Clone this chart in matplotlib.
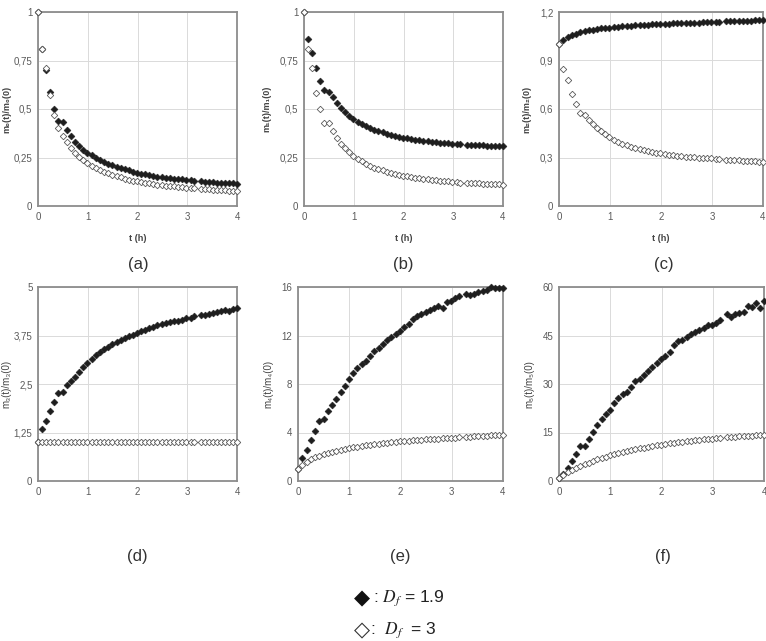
import matplotlib
matplotlib.use("Agg")
import matplotlib.pyplot as plt

plt.rcParams["font.family"] = ["Liberation Sans", "DejaVu Sans"]
plt.rcParams["mathtext.fontset"] = "stix"

# ---------------- data ----------------
t = [0, 0.08, 0.17, 0.25, 0.33, 0.41, 0.5, 0.58, 0.66, 0.75, 0.83, 0.91, 0.99,
     1.08, 1.16, 1.24, 1.33, 1.41, 1.49, 1.58, 1.66, 1.74, 1.82, 1.91, 1.99,
     2.07, 2.16, 2.24, 2.32, 2.40, 2.49, 2.57, 2.65, 2.74, 2.82, 2.90, 2.98,
     3.07, 3.14, 3.28, 3.36, 3.44, 3.52, 3.60, 3.68, 3.76, 3.84, 3.92, 4.0]

m0_df19 = [1.0, 0.81, 0.70, 0.59, 0.50, 0.44, 0.435, 0.39, 0.36, 0.33, 0.31, 0.29, 0.275,
           0.262, 0.25, 0.238, 0.228, 0.218, 0.21, 0.202, 0.195, 0.189, 0.183, 0.177, 0.172,
           0.167, 0.163, 0.159, 0.155, 0.152, 0.149, 0.146, 0.143, 0.141, 0.139, 0.137, 0.135,
           0.133, 0.131, 0.127, 0.125, 0.124, 0.122, 0.121, 0.12, 0.118, 0.117, 0.116, 0.115]
m0_df3 = [1.0, 0.81, 0.71, 0.57, 0.47, 0.40, 0.36, 0.33, 0.30, 0.275, 0.255, 0.237, 0.222,
          0.208, 0.196, 0.185, 0.176, 0.168, 0.16, 0.153, 0.147, 0.141, 0.136, 0.131, 0.127,
          0.123, 0.119, 0.116, 0.113, 0.11, 0.107, 0.105, 0.103, 0.101, 0.099, 0.097, 0.095,
          0.093, 0.092, 0.089, 0.087, 0.086, 0.084, 0.083, 0.082, 0.08, 0.079, 0.078, 0.077]

m1_df19 = [1.0, 0.86, 0.79, 0.71, 0.645, 0.60, 0.59, 0.56, 0.53, 0.505, 0.485, 0.465, 0.45,
           0.435, 0.423, 0.412, 0.402, 0.393, 0.386, 0.379, 0.373, 0.367, 0.362, 0.357, 0.353,
           0.349, 0.345, 0.342, 0.339, 0.336, 0.333, 0.331, 0.329, 0.327, 0.325, 0.323, 0.321,
           0.32, 0.318, 0.316, 0.315, 0.314, 0.313, 0.312, 0.311, 0.31, 0.309, 0.308, 0.307]
m1_df3 = [1.0, 0.81, 0.71, 0.585, 0.50, 0.43, 0.43, 0.385, 0.35, 0.32, 0.30, 0.28, 0.258,
          0.243, 0.23, 0.218, 0.207, 0.198, 0.19, 0.183, 0.177, 0.171, 0.166, 0.161, 0.157,
          0.153, 0.149, 0.146, 0.143, 0.14, 0.137, 0.135, 0.133, 0.131, 0.129, 0.127, 0.125,
          0.123, 0.121, 0.119, 0.118, 0.117, 0.116, 0.115, 0.114, 0.113, 0.112, 0.111, 0.11]

m2_df19 = [1.0, 1.028, 1.043, 1.057, 1.067, 1.075, 1.081, 1.086, 1.091, 1.095, 1.098, 1.101, 1.104,
           1.107, 1.109, 1.111, 1.113, 1.115, 1.117, 1.119, 1.12, 1.122, 1.123, 1.125, 1.126,
           1.127, 1.128, 1.129, 1.13, 1.131, 1.132, 1.133, 1.134, 1.135, 1.136, 1.137, 1.138,
           1.139, 1.14, 1.142, 1.143, 1.144, 1.145, 1.146, 1.146, 1.147, 1.148, 1.149, 1.15]
m2_df3 = [1.0, 0.85, 0.78, 0.69, 0.63, 0.575, 0.565, 0.535, 0.51, 0.485, 0.463, 0.445, 0.425,
          0.41, 0.397, 0.386, 0.376, 0.367, 0.359, 0.352, 0.346, 0.34, 0.335, 0.33, 0.326,
          0.322, 0.318, 0.315, 0.312, 0.309, 0.306, 0.304, 0.302, 0.3, 0.298, 0.296, 0.294,
          0.292, 0.29, 0.287, 0.285, 0.284, 0.282, 0.281, 0.279, 0.278, 0.276, 0.275, 0.273]

m3_df19 = [1.0, 1.34, 1.55, 1.81, 2.03, 2.26, 2.29, 2.47, 2.58, 2.69, 2.82, 2.94, 3.05,
           3.15, 3.24, 3.32, 3.39, 3.46, 3.52, 3.58, 3.63, 3.68, 3.73, 3.77, 3.81,
           3.86, 3.89, 3.94, 3.98, 4.01, 4.04, 4.07, 4.09, 4.12, 4.13, 4.15, 4.19,
           4.21, 4.25, 4.29, 4.29, 4.31, 4.32, 4.36, 4.38, 4.41, 4.38, 4.43, 4.46]
m3_df3 = [1.0, 1.0, 1.0, 1.0, 1.0, 1.0, 1.0, 1.0, 1.0, 1.0, 1.0, 1.0, 1.0,
          1.0, 1.0, 1.0, 1.0, 1.0, 1.0, 1.0, 1.0, 1.0, 1.0, 1.0, 1.0,
          1.0, 1.0, 1.0, 1.0, 1.0, 1.0, 1.0, 1.0, 1.0, 1.0, 1.0, 1.0,
          1.0, 1.0, 1.0, 1.0, 1.0, 1.0, 1.0, 1.0, 1.0, 1.0, 1.0, 1.0]

m4_df19 = [1.0, 1.9, 2.55, 3.37, 4.14, 4.97, 5.1, 5.77, 6.26, 6.76, 7.3, 7.83, 8.4,
           8.9, 9.3, 9.65, 9.9, 10.3, 10.7, 11.0, 11.3, 11.6, 11.9, 12.15, 12.4,
           12.7, 12.95, 13.35, 13.6, 13.75, 13.95, 14.1, 14.3, 14.45, 14.25, 14.75, 14.85,
           15.1, 15.25, 15.45, 15.35, 15.45, 15.6, 15.65, 15.75, 16.0, 15.9, 15.95, 15.9]
m4_df3 = [1.0, 1.35, 1.57, 1.78, 1.97, 2.1, 2.22, 2.33, 2.43, 2.51, 2.58, 2.65, 2.72,
          2.78, 2.84, 2.89, 2.94, 2.99, 3.03, 3.07, 3.11, 3.15, 3.19, 3.22, 3.26,
          3.29, 3.32, 3.35, 3.38, 3.41, 3.43, 3.46, 3.48, 3.5, 3.52, 3.54, 3.56,
          3.58, 3.6, 3.64, 3.66, 3.68, 3.7, 3.72, 3.74, 3.76, 3.78, 3.8, 3.82]

m5_df19 = [1.0, 2.3, 4.0, 6.1, 8.2, 10.8, 10.9, 13.1, 15.2, 17.3, 19.3, 20.6, 21.9,
           24.0, 25.6, 26.8, 27.5, 29.0, 30.8, 31.6, 32.8, 34.0, 35.2, 36.5, 37.6,
           38.8, 39.8, 42.0, 43.3, 43.6, 44.4, 45.5, 46.1, 46.6, 47.2, 48.2, 48.4,
           49.0, 49.8, 51.8, 50.8, 51.6, 52.0, 52.2, 54.2, 53.8, 55.0, 53.6, 55.8]
m5_df3 = [1.0, 2.0, 2.8, 3.5, 4.1, 4.7, 5.2, 5.7, 6.2, 6.7, 7.1, 7.5, 7.9,
          8.3, 8.6, 8.9, 9.2, 9.5, 9.8, 10.1, 10.3, 10.6, 10.8, 11.0, 11.2,
          11.4, 11.6, 11.8, 12.0, 12.2, 12.3, 12.5, 12.6, 12.8, 12.9, 13.0, 13.1,
          13.2, 13.3, 13.5, 13.6, 13.7, 13.8, 13.9, 14.0, 14.0, 14.1, 14.1, 14.2]

x_ticks = [0, 1, 2, 3, 4]
x_ticklabels = ["0", "1", "2", "3", "4"]

yticks_a = [0, 0.25, 0.5, 0.75, 1]
ylabels_a = ["0", "0,25", "0,5", "0,75", "1"]
yticks_c = [0, 0.3, 0.6, 0.9, 1.2]
ylabels_c = ["0", "0,3", "0,6", "0,9", "1,2"]
yticks_d = [0, 1.25, 2.5, 3.75, 5]
ylabels_d = ["0", "1,25", "2,5", "3,75", "5"]
yticks_e = [0, 4, 8, 12, 16]
ylabels_e = ["0", "4", "8", "12", "16"]
yticks_f = [0, 15, 30, 45, 60]
ylabels_f = ["0", "15", "30", "45", "60"]

ylabel_texts = ["m₀(t)/m₀(0)", "m₁(t)/m₁(0)", "m₂(t)/m₂(0)",
                "m₃(t)/m₃(0)", "m₄(t)/m₄(0)", "m₅(t)/m₅(0)"]
panel_letters = ["(a)", "(b)", "(c)", "(d)", "(e)", "(f)"]

# ---------------- figure ----------------
W, H = 766, 641
fig = plt.figure(figsize=(W / 100, H / 100), dpi=100)


def px_axes(x0, x1, y0, y1):
    return fig.add_axes([x0 / W, 1 - y1 / H, (x1 - x0) / W, (y1 - y0) / H])


boxes = [(38, 237, 12, 206), (304, 503, 12, 206), (559, 763, 12, 206),
         (38, 237, 287, 481), (298, 503, 287, 481), (559, 764, 287, 481)]
series = [(m0_df19, m0_df3), (m1_df19, m1_df3), (m2_df19, m2_df3),
          (m3_df19, m3_df3), (m4_df19, m4_df3), (m5_df19, m5_df3)]
yt = [(yticks_a, ylabels_a), (yticks_a, ylabels_a), (yticks_c, ylabels_c),
      (yticks_d, ylabels_d), (yticks_e, ylabels_e), (yticks_f, ylabels_f)]
letter_pos = [(138, 265), (403, 265), (664, 265), (137, 557), (400, 557), (663, 557)]
label_pads = [2, 6, 6, 2, 6, 6]

tick_col = "#5a5a5a"
for i, (box, (s19, s3), (ticks, labs)) in enumerate(zip(boxes, series, yt)):
    ax = px_axes(*box)
    ax.set_xlim(0, 4)
    ax.set_ylim(ticks[0], ticks[-1])
    ax.set_xticks(x_ticks)
    ax.set_xticklabels(x_ticklabels)
    ax.set_yticks(ticks)
    ax.set_yticklabels(labs)
    ax.grid(True, color="#dadada", linewidth=0.7)
    ax.set_axisbelow(True)
    for sp in ax.spines.values():
        sp.set_color("#8c8c8c")
        sp.set_linewidth(1.3)
    ax.tick_params(length=0, labelsize=7, labelcolor=tick_col, pad=4)
    ax.plot(t, s19, linestyle="none", marker="D", markersize=3.5,
            markerfacecolor="#1e1e1e", markeredgecolor="#1e1e1e",
            markeredgewidth=0.4, clip_on=False, zorder=3)
    ax.plot(t, s3, linestyle="none", marker="D", markersize=3.3,
            markerfacecolor="white", markeredgecolor="#5a5a5a",
            markeredgewidth=0.6, clip_on=False, zorder=4)
    top = i < 3
    ax.set_ylabel(ylabel_texts[i], fontsize=6.5 if top else 7,
                  fontweight="bold" if top else "normal", color="#444444",
                  labelpad=label_pads[i])
    if top:
        ax.set_xlabel("t (h)", fontsize=6.5, fontweight="bold", color="#444444",
                      labelpad=9)
    lx, ly = letter_pos[i]
    fig.text(lx / W, 1 - ly / H, panel_letters[i], ha="center", va="center",
             fontsize=12, color="#333333")

# legend
fig.text(354 / W, 1 - 598 / H, "◆", ha="left", va="center", fontsize=15,
         color="#111111", family="DejaVu Sans")
fig.text(373 / W, 1 - 598 / H, r": $D_f$ = 1.9", ha="left", va="center",
         fontsize=12.5, color="#222222")
fig.text(354 / W, 1 - 630 / H, "◇", ha="left", va="center", fontsize=15,
         color="#333333", family="DejaVu Sans")
fig.text(370 / W, 1 - 630 / H, r":  $D_f$  = 3", ha="left", va="center",
         fontsize=12.5, color="#222222")

fig.savefig("out.png", dpi=100)
